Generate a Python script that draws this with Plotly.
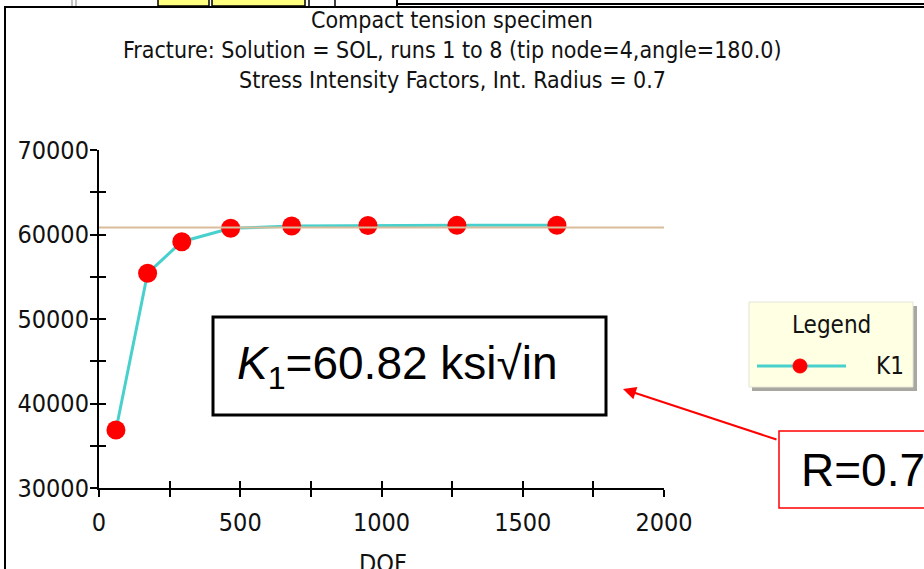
import plotly.graph_objects as go

# ---------------- data ----------------
dof = [60, 172, 293, 466, 682, 952, 1267, 1621]
k1_values = [36860, 55410, 59150, 60730, 61000, 61060, 61080, 61090]
k1_ref_x = [0, 2000]
k1_ref_y = [60820, 60820]

x_tickvals = [0, 250, 500, 750, 1000, 1250, 1500, 1750, 2000]
x_ticktext = ["0", "", "500", "", "1000", "", "1500", "", "2000"]
y_tickvals = [30000, 35000, 40000, 45000, 50000, 55000, 60000, 65000, 70000]
y_ticktext = ["30000", "", "40000", "", "50000", "", "60000", "", "70000"]

title_lines = [
    "Compact tension specimen",
    "Fracture: Solution = SOL, runs 1 to 8 (tip node=4,angle=180.0)",
    "Stress Intensity Factors, Int. Radius = 0.7",
]
x_title = "DOF"
legend_title = "Legend"
series_name = "K1"
k1_box_text = "<i>K</i><sub>1</sub>=60.82 ksi√in"
r_box_text = "R=0.7"

# ---------------- layout geometry ----------------
W, H = 924, 569
L, R, T, B = 99, 260, 150, 81
PW = W - L - R
PH = H - T - B

def px(p):
    return (p - L) / PW

def py(p):
    return (H - B - p) / PH

NARROW = "DejaVu Sans Condensed, Liberation Sans Narrow, Arial Narrow, sans-serif"
ARIAL = "Liberation Sans, Arial, sans-serif"

fig = go.Figure()
fig.add_trace(go.Scatter(
    x=dof, y=k1_values, mode="lines+markers", name=series_name,
    line=dict(color="#48D1CC", width=3),
    marker=dict(color="#FF0000", size=19, symbol="circle"),
    cliponaxis=False, showlegend=False, hoverinfo="x+y",
))
fig.add_trace(go.Scatter(
    x=k1_ref_x, y=k1_ref_y, mode="lines",
    line=dict(color="#D9BC9A", width=2),
    showlegend=False, hoverinfo="skip",
))
# dummy trace for overlay axes (inner half of crossing ticks)
fig.add_trace(go.Scatter(x=[None], y=[None], xaxis="x2", yaxis="y2",
                         showlegend=False, hoverinfo="skip"))

axis_common = dict(showgrid=False, zeroline=False, showline=True, automargin=False,
                   linecolor="black", linewidth=2, ticks="outside",
                   ticklen=7, tickwidth=2, tickcolor="black",
                   tickfont=dict(family=NARROW, size=25, color="#111111"))

fig.update_layout(
    width=W, height=H,
    margin=dict(l=L, r=R, t=T, b=B, pad=0),
    paper_bgcolor="white", plot_bgcolor="white",
    xaxis=dict(range=[0, 2000], tickmode="array", tickvals=x_tickvals,
               ticktext=x_ticktext, ticklabelstandoff=4, **axis_common),
    yaxis=dict(range=[30000, 70000], tickmode="array", tickvals=y_tickvals,
               ticktext=y_ticktext, ticklabelstandoff=-4, **axis_common),
    xaxis2=dict(range=[0, 2000], overlaying="x", anchor="y2", side="bottom",
                tickmode="array", tickvals=x_tickvals, ticks="inside", automargin=False,
                ticklen=7, tickwidth=2, tickcolor="black",
                showticklabels=False, showgrid=False, zeroline=False, showline=False),
    yaxis2=dict(range=[30000, 70000], overlaying="y", anchor="x2", side="left",
                tickmode="array", tickvals=y_tickvals, ticks="inside", automargin=False,
                ticklen=7, tickwidth=2, tickcolor="black",
                showticklabels=False, showgrid=False, zeroline=False, showline=False),
    showlegend=False,
)

shapes = []
ann = []

# window frame / toolbar remnants at the top
shapes += [
    dict(type="line", xref="paper", yref="paper", x0=px(5), x1=px(5), y0=py(6), y1=py(575),
         line=dict(color="black", width=2)),
    dict(type="line", xref="paper", yref="paper", x0=px(4), x1=px(930), y0=py(7), y1=py(7),
         line=dict(color="black", width=2)),
    dict(type="rect", xref="paper", yref="paper", x0=px(158), x1=px(209), y0=py(-2), y1=py(6),
         fillcolor="#FFFF80", line=dict(color="black", width=1.5)),
    dict(type="rect", xref="paper", yref="paper", x0=px(212), x1=px(305), y0=py(-2), y1=py(6),
         fillcolor="#FFFF80", line=dict(color="black", width=1.5)),
    dict(type="line", xref="paper", yref="paper", x0=px(309), x1=px(309), y0=py(-2), y1=py(6),
         line=dict(color="black", width=1.5)),
    dict(type="line", xref="paper", yref="paper", x0=px(335), x1=px(335), y0=py(-2), y1=py(6),
         line=dict(color="black", width=1.5)),
    dict(type="line", xref="paper", yref="paper", x0=px(397), x1=px(397), y0=py(-2), y1=py(6),
         line=dict(color="black", width=2)),
    dict(type="line", xref="paper", yref="paper", x0=px(397), x1=px(930), y0=py(4), y1=py(4),
         line=dict(color="black", width=2)),
    dict(type="line", xref="paper", yref="paper", x0=px(72), x1=px(72), y0=py(-2), y1=py(6),
         line=dict(color="#B0B0B0", width=1.5)),
    dict(type="line", xref="paper", yref="paper", x0=px(76), x1=px(76), y0=py(-2), y1=py(6),
         line=dict(color="#B0B0B0", width=1.5)),
]

# titles
for i, t in enumerate(title_lines):
    ann.append(dict(text=t, xref="paper", yref="paper", x=px(452), y=py(20 + 30 * i),
                    xanchor="center", yanchor="middle", showarrow=False,
                    font=dict(family=NARROW, size=23, color="#111111")))

ann.append(dict(text=x_title, xref="paper", yref="paper", x=px(383), y=py(563),
                xanchor="center", yanchor="middle", showarrow=False,
                font=dict(family=NARROW, size=25, color="#111111")))

# legend box (custom, Windows-style)
shapes += [
    dict(type="rect", xref="paper", yref="paper", x0=px(752), x1=px(917), y0=py(306), y1=py(391),
         fillcolor="#A8A8A0", line=dict(width=0)),
    dict(type="rect", xref="paper", yref="paper", x0=px(749), x1=px(913), y0=py(302), y1=py(387),
         fillcolor="#FFFFE3", line=dict(color="#E4E4D8", width=1)),
    dict(type="line", xref="paper", yref="paper", x0=px(757), x1=px(846), y0=py(366), y1=py(366),
         line=dict(color="#48D1CC", width=3)),
    dict(type="circle", xref="paper", yref="paper", x0=px(793), x1=px(807), y0=py(359), y1=py(373),
         fillcolor="#FF0000", line=dict(color="#FF0000", width=1)),
]
ann.append(dict(text=legend_title, xref="paper", yref="paper", x=px(831), y=py(325),
                xanchor="center", yanchor="middle", showarrow=False,
                font=dict(family=NARROW, size=24, color="#111111")))
ann.append(dict(text=series_name, xref="paper", yref="paper", x=px(906), y=py(366),
                xanchor="right", yanchor="middle", showarrow=False,
                font=dict(family=NARROW, size=24, color="#111111")))

# K1 result box
shapes.append(dict(type="rect", xref="paper", yref="paper", x0=px(213), x1=px(606),
                   y0=py(317), y1=py(415), fillcolor="white",
                   line=dict(color="black", width=3)))
ann.append(dict(text=k1_box_text, xref="paper", yref="paper", x=px(235), y=py(366),
                xanchor="left", yanchor="middle", showarrow=False,
                font=dict(family=ARIAL, size=46, color="black")))

# R box
shapes.append(dict(type="rect", xref="paper", yref="paper", x0=px(779), x1=px(960),
                   y0=py(431), y1=py(508), fillcolor="white",
                   line=dict(color="#FF0000", width=1.5)))
ann.append(dict(text=r_box_text, xref="paper", yref="paper", x=px(799), y=py(470),
                xanchor="left", yanchor="middle", showarrow=False,
                font=dict(family=ARIAL, size=46, color="black")))

# arrow
ann.append(dict(text="", xref="paper", yref="paper", x=px(623), y=py(389),
                ax=778 - 623, ay=440 - 389, showarrow=True, arrowhead=2,
                arrowsize=1.3, arrowwidth=2, arrowcolor="#FF0000",
                standoff=0, startstandoff=0))

fig.update_layout(shapes=shapes, annotations=ann)
fig.write_html("out.html")
